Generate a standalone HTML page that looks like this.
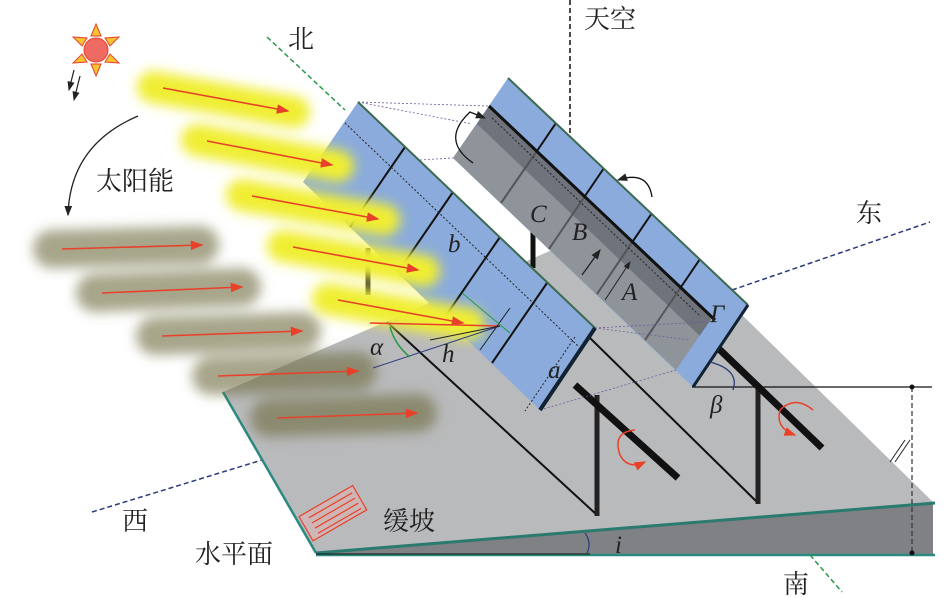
<!DOCTYPE html>
<html><head><meta charset="utf-8"><style>
html,body{margin:0;padding:0;background:#fff}
svg{display:block}
text{font-family:"Liberation Serif","Noto Serif CJK SC",serif}
.it{font-family:"Liberation Serif",serif;font-style:italic;font-size:25px;fill:#222}
</style></head><body>
<svg width="945" height="598" viewBox="0 0 945 598" xmlns="http://www.w3.org/2000/svg">
<defs>
<filter id="bl" x="-30%" y="-80%" width="160%" height="260%"><feGaussianBlur stdDeviation="6"/></filter>
<marker id="ar" markerWidth="8" markerHeight="6" refX="7" refY="3" orient="auto"><path d="M0,0L8,3L0,6z" fill="#e8412a"/></marker>
<marker id="ak" markerWidth="8" markerHeight="6" refX="7" refY="3" orient="auto"><path d="M0,0L8,3L0,6z" fill="#222"/></marker>
</defs>

<line x1="92" y1="512" x2="262" y2="460" stroke="#2a3a7a" stroke-width="1.5" stroke-dasharray="5,3"/>
<line x1="267" y1="37" x2="345" y2="110" stroke="#2a9a4a" stroke-width="1.5" stroke-dasharray="5,3"/>
<line x1="570" y1="0" x2="570" y2="320" stroke="#111" stroke-width="1.5" stroke-dasharray="5,3"/>

<polygon points="223,392 638,213 933,502 316,553" fill="#b9babc"/>
<polygon points="316,553 933,502 933,555 316,555" fill="#808184"/>
<line x1="223" y1="392" x2="316" y2="553" stroke="#2a8a80" stroke-width="2.5"/>
<line x1="316" y1="553" x2="935" y2="503" stroke="#2a7a70" stroke-width="3"/>
<line x1="316" y1="555" x2="935" y2="555" stroke="#2a8a80" stroke-width="2.5"/>
<line x1="316" y1="554" x2="590" y2="554" stroke="#111" stroke-width="1"/>
<path d="M585,533 Q592,543 587,553" fill="none" stroke="#2a3a7a" stroke-width="1.2"/>
<text x="615" y="553" class="it" font-size="22">i</text>

<line x1="732" y1="290" x2="930" y2="222" stroke="#2a3a7a" stroke-width="1.5" stroke-dasharray="5,3"/>
<line x1="810" y1="555" x2="842" y2="592" stroke="#2a9a4a" stroke-width="1.5" stroke-dasharray="5,3"/>

<line x1="692" y1="387" x2="932" y2="387" stroke="#111" stroke-width="1.2"/>
<line x1="912" y1="387" x2="912" y2="553" stroke="#333" stroke-width="1.2" stroke-dasharray="5,3"/>
<circle cx="912" cy="387" r="2.5" fill="#111"/><circle cx="912" cy="553" r="2.5" fill="#111"/>
<line x1="890" y1="462" x2="905" y2="440" stroke="#222" stroke-width="1"/>
<line x1="895" y1="462" x2="910" y2="440" stroke="#222" stroke-width="1"/>

<line x1="387" y1="322" x2="597" y2="515" stroke="#111" stroke-width="2"/>
<line x1="590" y1="338" x2="758" y2="503" stroke="#111" stroke-width="2"/>
<line x1="597" y1="395" x2="597" y2="516" stroke="#222" stroke-width="5"/>
<line x1="575" y1="385" x2="678" y2="478" stroke="#111" stroke-width="7"/>
<line x1="758" y1="387" x2="758" y2="504" stroke="#222" stroke-width="5"/>
<line x1="718" y1="348" x2="822" y2="448" stroke="#111" stroke-width="7"/>
<line x1="533" y1="228" x2="533" y2="268" stroke="#111" stroke-width="5"/>
<line x1="368" y1="248" x2="368" y2="295" stroke="#333" stroke-width="5"/>
<path d="M635,430 Q612,432 620,455 Q628,470 645,462" fill="none" stroke="#e8412a" stroke-width="1.5" marker-end="url(#ar)"/>
<path d="M813,410 Q795,395 780,410 Q775,428 795,435" fill="none" stroke="#e8412a" stroke-width="1.5" marker-end="url(#ar)"/>

<g transform="translate(305,527) rotate(-30)" stroke="#e8412a" fill="none" stroke-width="1.2">
<rect x="0" y="-12" width="62" height="28" fill="#f3b0a8" fill-opacity=".35"/>
<line x1="8" y1="-6" x2="58" y2="-6"/><line x1="8" y1="0" x2="58" y2="0"/><line x1="8" y1="6" x2="58" y2="6"/><line x1="8" y1="12" x2="58" y2="12"/>
</g>

<polygon points="508,78 748,305 693,387 453,158" fill="#8aabdc"/>
<polygon points="489,106 712,318 676,370 453,158" fill="#8f939a"/>
<polygon points="489,106 712,318 700,336 477,124" fill="#6e737c"/>
<polygon points="729,333 712,318 676,370 693,387" fill="#8aabdc"/>
<g stroke="#111" stroke-width="2">
<line x1="556" y1="123" x2="537" y2="151"/><line x1="604" y1="168" x2="585" y2="196"/><line x1="652" y1="213" x2="633" y2="241"/><line x1="700" y1="259" x2="681" y2="287"/>
</g>
<g stroke="#555" stroke-width="2">
<line x1="537" y1="151" x2="501" y2="203"/><line x1="585" y1="196" x2="549" y2="249"/><line x1="633" y1="241" x2="597" y2="294"/><line x1="681" y1="287" x2="645" y2="340"/>
</g>
<line x1="489" y1="106" x2="715" y2="320" stroke="#111" stroke-width="3"/>
<line x1="508" y1="78" x2="748" y2="305" stroke="#3a6a50" stroke-width="2"/>
<line x1="748" y1="305" x2="693" y2="387" stroke="#123" stroke-width="3"/>
<line x1="492" y1="118" x2="700" y2="316" stroke="#222" stroke-width="1" stroke-dasharray="2,2"/>
<line x1="605" y1="300" x2="630" y2="262" stroke="#222" stroke-width="1" marker-end="url(#ak)"/>
<line x1="582" y1="275" x2="600" y2="250" stroke="#222" stroke-width="1.3" marker-end="url(#ak)"/>
<text x="530" y="222" class="it">C</text>
<text x="572" y="240" class="it">B</text>
<text x="622" y="300" class="it">A</text>
<text x="710" y="322" class="it">Γ</text>
<path d="M473,163 Q440,140 470,112 L485,118" fill="none" stroke="#111" stroke-width="1.3" marker-end="url(#ak)"/>
<path d="M652,197 Q648,170 618,180" fill="none" stroke="#111" stroke-width="1.3" marker-end="url(#ak)"/>
<path d="M710,362 Q740,370 733,390" fill="none" stroke="#2a3a7a" stroke-width="1.3"/>
<text x="710" y="413" class="it">β</text>

<g stroke="#6a5aa0" stroke-width="0.8" stroke-dasharray="2,2" fill="none">
<line x1="358" y1="102" x2="488" y2="106"/><line x1="358" y1="102" x2="472" y2="124"/>
<line x1="595" y1="328" x2="705" y2="322"/><line x1="595" y1="328" x2="690" y2="340"/>
<line x1="540" y1="410" x2="676" y2="370"/><line x1="420" y1="160" x2="453" y2="158"/>
</g>

<g filter="url(#bl)">
<g stroke="#6c6a3a" stroke-opacity=".6" stroke-width="38" stroke-linecap="round">
<line x1="52" y1="249" x2="200" y2="245"/><line x1="95" y1="293" x2="242" y2="287"/>
<line x1="155" y1="336" x2="302" y2="331"/><line x1="211" y1="376" x2="358" y2="371"/><line x1="269" y1="418" x2="418" y2="413"/>
</g>
</g>

<polygon points="358,102 595,328 540,410 303,182" fill="#8aabdc"/>
<g stroke="#111" stroke-width="2">
<line x1="405" y1="147" x2="350" y2="227"/><line x1="453" y1="192" x2="398" y2="272"/><line x1="500" y1="237" x2="445" y2="317"/><line x1="547" y1="283" x2="492" y2="363"/>
</g>
<line x1="358" y1="102" x2="595" y2="328" stroke="#3a6a50" stroke-width="2"/>
<line x1="595" y1="328" x2="540" y2="410" stroke="#123" stroke-width="4"/>
<line x1="345" y1="123" x2="578" y2="346" stroke="#222" stroke-width="1" stroke-dasharray="2,2"/>
<line x1="575" y1="337" x2="525" y2="411" stroke="#222" stroke-width="1" stroke-dasharray="2,2"/>
<text x="448" y="252" class="it">b</text>
<text x="548" y="378" class="it">a</text>

<g filter="url(#bl)">
<g stroke="#f0ee30" stroke-width="32" stroke-linecap="round">
<line x1="153" y1="87" x2="294" y2="112"/><line x1="197" y1="140" x2="338" y2="166"/>
<line x1="242" y1="195" x2="384" y2="220"/><line x1="283" y1="246" x2="424" y2="271"/><line x1="328" y1="299" x2="469" y2="324"/>
</g>
</g>
<g stroke="#e8412a" stroke-width="1.6">
<line x1="163" y1="88" x2="288" y2="111" marker-end="url(#ar)"/><line x1="207" y1="141" x2="332" y2="165" marker-end="url(#ar)"/>
<line x1="252" y1="196" x2="378" y2="219" marker-end="url(#ar)"/><line x1="293" y1="247" x2="418" y2="270" marker-end="url(#ar)"/>
<line x1="338" y1="300" x2="463" y2="323" marker-end="url(#ar)"/>
<line x1="62" y1="249" x2="202" y2="245" marker-end="url(#ar)"/><line x1="102" y1="293" x2="242" y2="287" marker-end="url(#ar)"/>
<line x1="162" y1="336" x2="302" y2="331" marker-end="url(#ar)"/><line x1="218" y1="376" x2="358" y2="371" marker-end="url(#ar)"/>
<line x1="277" y1="418" x2="417" y2="413" marker-end="url(#ar)"/>
<line x1="370" y1="323" x2="500" y2="326"/>
</g>
<line x1="373" y1="368" x2="500" y2="326" stroke="#2a3a7a" stroke-width="1"/>
<line x1="430" y1="340" x2="500" y2="326" stroke="#222" stroke-width="1"/>
<line x1="480" y1="350" x2="510" y2="308" stroke="#222" stroke-width="1"/>
<line x1="462" y1="293" x2="510" y2="333" stroke="#2a9a4a" stroke-width="1"/>
<path d="M390,327 Q395,345 410,357" fill="none" stroke="#2a9a4a" stroke-width="1.5"/>
<text x="370" y="355" class="it">α</text>
<text x="442" y="362" class="it">h</text>

<g transform="translate(96,50)" fill="#f7c330" stroke="#e8412a" stroke-width="1">
<polygon points="0,-26 5,-14 -5,-14"/><polygon points="0,26 5,14 -5,14"/>
<polygon points="-23,-13 -9,-12 -14,-4"/><polygon points="23,-13 9,-12 14,-4"/>
<polygon points="-23,13 -9,12 -14,4"/><polygon points="23,13 9,12 14,4"/>
<circle r="12" fill="#ee6a62"/>
</g>
<path d="M74,70 L69,90" stroke="#222" stroke-width="1.2" marker-end="url(#ak)"/>
<path d="M80,76 L74,100" stroke="#222" stroke-width="1.2" marker-end="url(#ak)"/>
<path d="M138,116 Q70,145 68,215" fill="none" stroke="#222" stroke-width="1.3" marker-end="url(#ak)"/>

<g font-size="26" fill="#222">
<text x="288" y="48">北</text>
<text x="584" y="28">天空</text>
<text x="856" y="222">东</text>
<text x="122" y="530">西</text>
<text x="195" y="563">水平面</text>
<text x="383" y="530">缓坡</text>
<text x="783" y="593">南</text>
<text x="96" y="190">太阳能</text>
</g>
</svg>
</body></html>
